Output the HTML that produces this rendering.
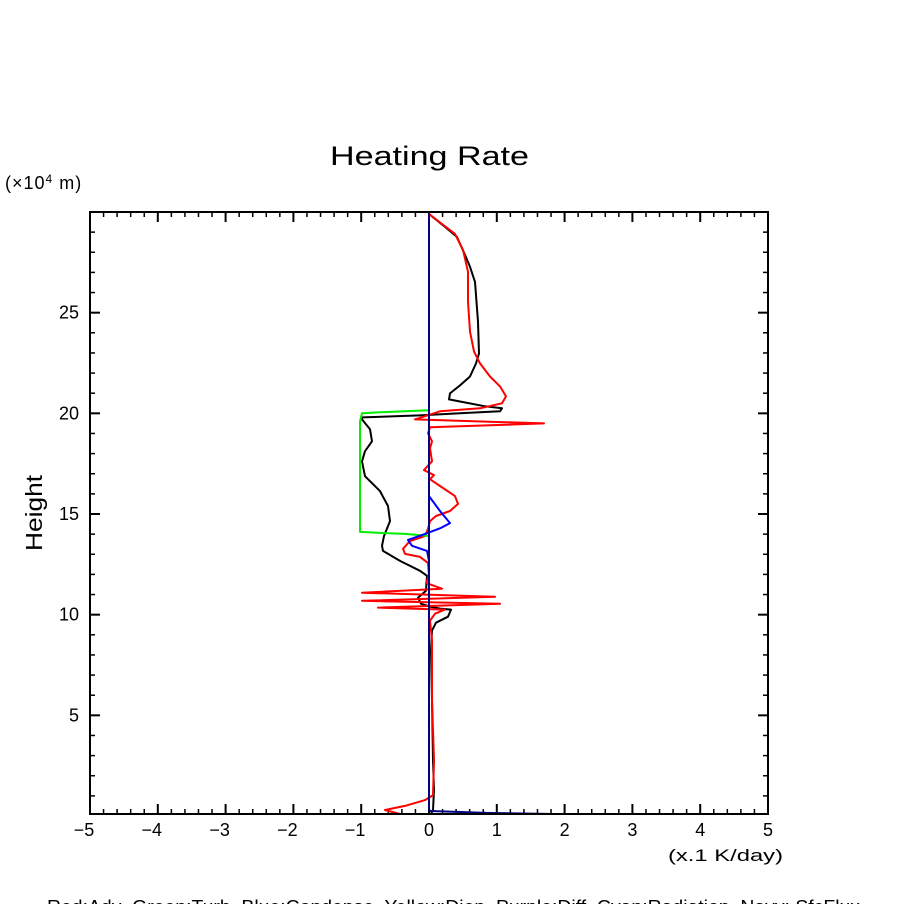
<!DOCTYPE html>
<html><head><meta charset="utf-8"><style>
html,body{margin:0;padding:0;background:#fff;}
svg{display:block;font-family:"Liberation Sans",sans-serif;}
text{white-space:pre;}
</style></head><body>
<svg id="chart" width="904" height="904" viewBox="0 0 904 904" xmlns="http://www.w3.org/2000/svg">
<rect width="904" height="904" fill="#fff"/>
<text x="330" y="165" font-size="27" fill="#000" textLength="199" lengthAdjust="spacingAndGlyphs">Heating Rate</text>
<text x="5" y="189" font-size="18" fill="#000" letter-spacing="1">(×10<tspan font-size="12" dy="-6">4</tspan><tspan dy="6"> m)</tspan></text>
<text transform="translate(42,513) rotate(-90)" font-size="23" text-anchor="middle" fill="#000" textLength="76" lengthAdjust="spacingAndGlyphs">Height</text>
<text x="668" y="861" font-size="17" fill="#000" textLength="115" lengthAdjust="spacingAndGlyphs">(x.1 K/day)</text>
<text x="47" y="913" font-size="18" fill="#000" textLength="813" lengthAdjust="spacingAndGlyphs" xml:space="preserve">Red:Adv  Green:Turb  Blue:Condense  Yellow:Diep  Purple:Diff  Cyan:Radiation  Navy: SfcFlux</text>
<g id="axes"></g>
<g id="series"></g>
<rect x="90" y="212" width="678" height="602" fill="none" stroke="#000" stroke-width="2"/>
</svg>
<script>
const xTicks=[-5,-4,-3,-2,-1,0,1,2,3,4,5];
const yTicks=[5,10,15,20,25];
const blackX=[0,0.236,0.413,0.531,0.605,0.678,0.723,0.737,0.693,0.605,0.457,0.31,0.295,0.457,0.826,1.077,1.047,0.457,-0.133,-0.988,-0.988,-0.87,-0.84,-0.944,-0.988,-0.944,-0.723,-0.605,-0.575,-0.664,-0.693,-0.678,-0.428,-0.133,-0.03,-0.044,-0.162,-0.118,0.015,0.162,0.324,0.28,0.103,0.044,0.03,0.044,0.059,0.074,0.059,0.03];
const blackH=[29.9,29.26,28.76,27.87,27.28,26.53,24.55,22.97,22.48,21.83,21.39,20.99,20.69,20.59,20.35,20.25,20.10,20.0,19.9,19.8,19.7,19.21,18.61,18.12,17.62,16.88,16.14,15.40,14.65,13.91,13.42,13.17,12.67,12.18,11.93,11.19,10.84,10.54,10.40,10.30,10.25,9.90,9.60,9.21,8.22,5.74,2.77,1.29,0.30,0.1];
const redX=[0,0.383,0.501,0.575,0.575,0.605,0.664,0.752,0.9,1.047,1.136,1.077,0.752,0.162,-0.206,1.696,0.015,-0.015,0.044,0.015,0.044,-0.074,0.074,0.015,0.162,0.383,0.428,0.31,0.103,0.015,-0.015,-0.059,-0.28,-0.383,-0.354,-0.133,-0.015,0,-0.044,0.192,-0.988,0.973,-0.988,1.047,-0.752,0.236,0.088,0.015,0.044,0.044,0.074,0.059,-0.059,-0.354,-0.649,-0.428];
const redH=[29.9,28.91,28.12,27.03,25.54,24.06,23.07,22.48,21.83,21.34,20.84,20.50,20.25,20.10,19.70,19.50,19.31,19.01,18.61,18.27,17.62,17.18,16.93,16.73,16.39,15.89,15.50,15.15,14.90,14.65,14.26,13.91,13.66,13.27,13.02,12.87,12.57,11.93,11.58,11.29,11.09,10.89,10.69,10.54,10.35,10.25,10.05,9.70,8.71,5.74,2.77,1.04,0.79,0.50,0.30,0.10];
const greenX=[0,-0.354,-0.723,-0.988,-1.018,-1.018,-0.723,-0.354,0];
const greenH=[20.15,20.10,20.05,20.0,19.6,14.11,14.06,14.01,13.91];
const blueX=[0,0.162,0.31,0.177,-0.059,-0.31,-0.251,-0.03,0];
const blueH=[15.89,15.15,14.55,14.31,14.01,13.71,13.42,13.17,12.67];
const navyX=[0,0,0.02,0.46,0.9,1.83];
const navyH=[29.9,0.3,0.25,0.2,0.15,0.1];

const NS="http://www.w3.org/2000/svg";
const X0=90,X1=768,Y0=814,Y1=212,XMIN=-5,XMAX=5,YMIN=0.1,YMAX=30;
function sx(v){return X0+(v-XMIN)/(XMAX-XMIN)*(X1-X0);}
function sy(v){return Y0-(v-YMIN)/(YMAX-YMIN)*(Y0-Y1);}
const axes=document.getElementById('axes');
function line(x1,y1,x2,y2,w){const l=document.createElementNS(NS,'line');l.setAttribute('x1',x1);l.setAttribute('y1',y1);l.setAttribute('x2',x2);l.setAttribute('y2',y2);l.setAttribute('stroke','#000');l.setAttribute('stroke-width',w);return l;}
for(let v=XMIN;v<=XMAX+1e-6;v+=0.2){
  const major=Math.abs(v-Math.round(v))<1e-6;
  const len=major?10:5;const x=sx(v);
  const a=line(x,Y0,x,Y0-len,major?2:1.5);
  
  
  axes.appendChild(a);
  const b=line(x,Y1,x,Y1+len,major?2:1.5);
  
  
  axes.appendChild(b);
}
xTicks.forEach(v=>{
  const t=document.createElementNS(NS,'text');
  t.setAttribute('x',sx(v)-(v<0?6:0));t.setAttribute('y',836);t.setAttribute('font-size','18');t.setAttribute('text-anchor','middle');
  t.textContent=(v<0?'\u2212'+(-v):String(v));
  
  
  axes.appendChild(t);
});
for(let v=1;v<=29;v++){
  const major=v%5===0;const len=major?10:5;const y=sy(v);
  const a=line(X0,y,X0+len,y,major?2:1.5);
  
  
  axes.appendChild(a);
  const b=line(X1,y,X1-len,y,major?2:1.5);
  
  
  axes.appendChild(b);
}
yTicks.forEach(v=>{
  const t=document.createElementNS(NS,'text');
  t.setAttribute('x',79);t.setAttribute('y',sy(v)+6);t.setAttribute('font-size','18');t.setAttribute('text-anchor','end');
  t.textContent=String(v);
  
  
  axes.appendChild(t);
});
const series=document.getElementById('series');
function drawSeries(xs,hs,color,name){
  const p=document.createElementNS(NS,'polyline');
  p.setAttribute('points',xs.map((v,i)=>sx(v).toFixed(1)+','+sy(hs[i]).toFixed(1)).join(' '));
  p.setAttribute('fill','none');p.setAttribute('stroke',color);p.setAttribute('stroke-width','2');p.setAttribute('stroke-linejoin','round');
  
  
  series.appendChild(p);
}
drawSeries(blackX,blackH,'#000','total-line');
drawSeries(redX,redH,'#ff0000','adv-line');
drawSeries(greenX,greenH,'#00ee00','turb-line');
drawSeries(blueX,blueH,'#0000ff','condense-line');
drawSeries(navyX,navyH,'#000080','sfcflux-line');
</script>
</body></html>
